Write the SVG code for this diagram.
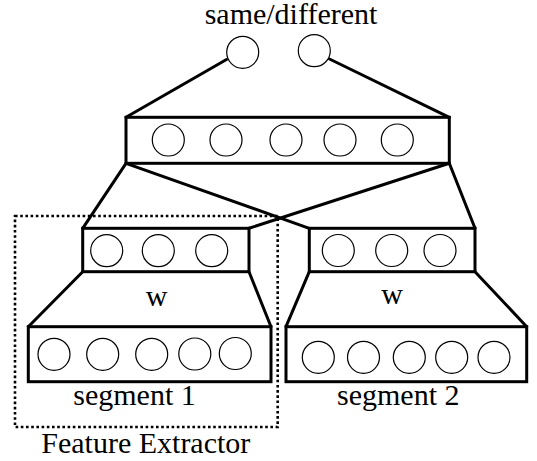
<svg xmlns="http://www.w3.org/2000/svg" width="537" height="461" viewBox="0 0 537 461">
<style>
.box{fill:none;stroke:#000;stroke-width:3;stroke-linejoin:miter}
.u{fill:#fff;stroke:#000;stroke-width:1.2}
.c{fill:none;stroke:#000;stroke-width:3;stroke-linecap:round}
.dot{fill:none;stroke:#000;stroke-width:2.6;stroke-dasharray:2.6 2.6}
.t{font-family:"Liberation Serif","Times New Roman",serif;font-size:30px;fill:#000;text-anchor:middle}
</style>
<rect width="537" height="461" fill="#fff"/>
<g id="connectors">
<line class="c" x1="226.5" y1="59.5" x2="126" y2="117.3"/>
<line class="c" x1="329.5" y1="59" x2="449.3" y2="117.3"/>
<line class="c" x1="126" y1="163.3" x2="82.7" y2="228.3"/>
<line class="c" x1="126" y1="163.3" x2="309.3" y2="228.3"/>
<line class="c" x1="449.3" y1="163.3" x2="249" y2="228.3"/>
<line class="c" x1="449.3" y1="163.3" x2="475" y2="228.3"/>
<line class="c" x1="82.7" y1="271.7" x2="28.3" y2="326.7"/>
<line class="c" x1="249" y1="271.7" x2="271" y2="326.7"/>
<line class="c" x1="309.3" y1="271.7" x2="286" y2="326.7"/>
<line class="c" x1="475" y1="271.7" x2="526.7" y2="326.7"/>
</g>
<g id="output">
<text class="t" x="291" y="23.5">same/different</text>
<circle class="u" cx="242.7" cy="52.3" r="16"/>
<circle class="u" cx="314.3" cy="50.7" r="16"/>
</g>
<g id="merge-layer">
<rect class="box" x="126" y="117.3" width="323.3" height="46"/>
<circle class="u" cx="168.3" cy="140" r="16"/>
<circle class="u" cx="226" cy="140" r="16"/>
<circle class="u" cx="286" cy="140" r="16"/>
<circle class="u" cx="340" cy="140" r="16"/>
<circle class="u" cx="397.3" cy="140" r="16"/>
</g>
<g id="hidden-1">
<rect class="box" x="82.7" y="228.3" width="166.3" height="43.4"/>
<circle class="u" cx="106.7" cy="250.7" r="16"/>
<circle class="u" cx="158.3" cy="250.7" r="16"/>
<circle class="u" cx="211.7" cy="250.7" r="16"/>
<text class="t" x="156.7" y="306">w</text>
</g>
<g id="hidden-2">
<rect class="box" x="309.3" y="228.3" width="165.7" height="43.4"/>
<circle class="u" cx="338.3" cy="250.5" r="16"/>
<circle class="u" cx="391.7" cy="250.5" r="16"/>
<circle class="u" cx="440" cy="250.5" r="16"/>
<text class="t" x="392" y="303.5">w</text>
</g>
<g id="segment-1">
<rect class="box" x="28.3" y="326.7" width="242.7" height="55"/>
<circle class="u" cx="54" cy="354.3" r="16"/>
<circle class="u" cx="102.7" cy="354.3" r="16"/>
<circle class="u" cx="151.7" cy="354.3" r="16"/>
<circle class="u" cx="194.8" cy="354" r="16"/>
<circle class="u" cx="235.3" cy="353.5" r="16"/>
<text class="t" x="134.5" y="404.5">segment 1</text>
</g>
<g id="segment-2">
<rect class="box" x="286" y="326.7" width="240.7" height="55"/>
<circle class="u" cx="318.3" cy="357.3" r="16"/>
<circle class="u" cx="363.5" cy="357.3" r="16"/>
<circle class="u" cx="409.3" cy="357.3" r="16"/>
<circle class="u" cx="451.7" cy="357.3" r="16"/>
<circle class="u" cx="494" cy="357.3" r="16"/>
<text class="t" x="398.3" y="404.5">segment 2</text>
</g>
<g id="feature-extractor">
<rect class="dot" x="15" y="216" width="262.7" height="211"/>
<text class="t" x="145.8" y="452.7">Feature Extractor</text>
</g>
</svg>
